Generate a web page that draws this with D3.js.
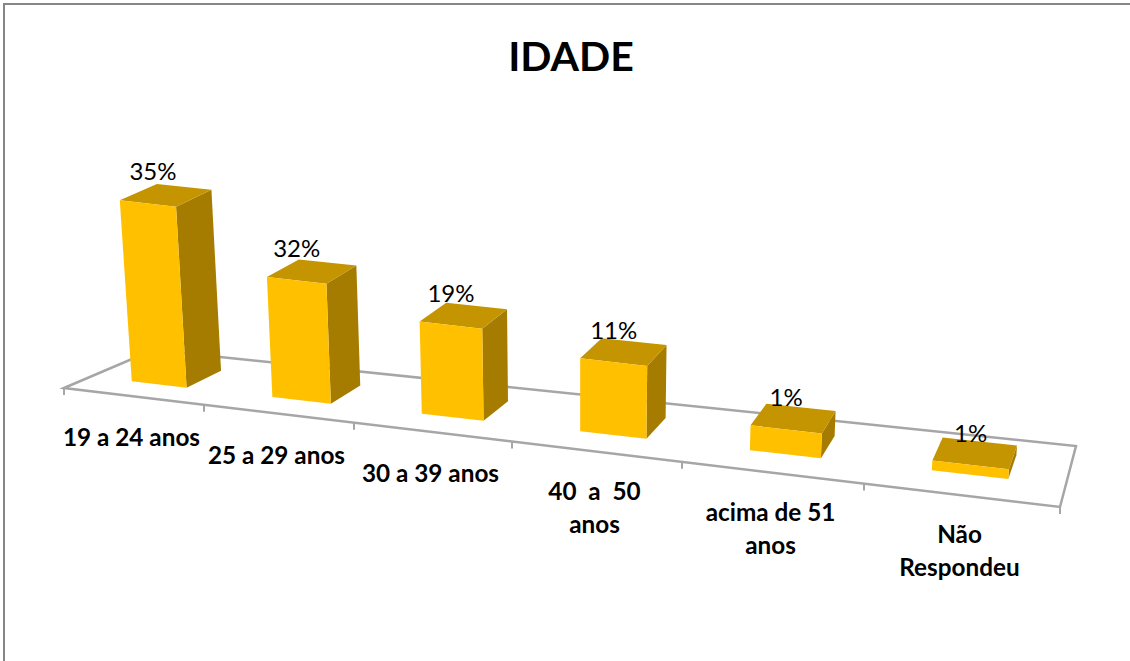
<!DOCTYPE html>
<html>
<head>
<meta charset="utf-8">
<script src="https://cdn.jsdelivr.net/npm/d3@7"></script>
<style>
    body { margin: 0; background: #fff; }
    svg { display: block; font-family: Lato, "Open Sans", sans-serif; }
</style>
</head>
<body>
<div id="chart"></div>
<script>
// DATA
var categories = [
    ['19 a 24 anos'],
    ['25 a 29 anos'],
    ['30 a 39 anos'],
    ['40  a  50', 'anos'],
    ['acima de 51', 'anos'],
    ['Não', 'Respondeu']
];
var valueLabels = ['35%', '32%', '19%', '11%', '1%', '1%'];
// bar heights as drawn, they don't follow the printed labels in the source picture
var drawnValues = [35, 23.2, 17.8, 14.1, 4.8, 1.9];
var tickSlots = [0, 1, 2, 3, 4, 5, 6];

var width = 1130, height = 661;

var svg = d3.select('#chart')
    .append('svg')
    .attr('width', width)
    .attr('height', height);

// SCALES (the floor is in perspective, so slots get wider to the right)
var frontX = d3.scaleLinear().domain(tickSlots).range([64, 204, 354, 512, 682, 864, 1060]);
var backX = d3.scaleLinear().domain(tickSlots).range([153, 283, 421, 568, 725, 894, 1076]);
var frontY = d3.scaleLinear().domain([64, 1060]).range([388, 507]);
var backY = d3.scaleLinear().domain([153, 1076]).range([350, 446]);
var rise = d3.scaleLinear().domain([0, 35]).range([0, 181]);
// bars sit slightly deeper on the floor towards the right
var barFront = d3.scaleLinear().domain([0, 5]).range([0.3, 0.35]);
var barBack = d3.scaleLinear().domain([0, 5]).range([0.72, 0.75]);

// u = slot along the axis, d = depth on the floor (0 front, 1 back), v = value
function project(u, d, v) {
    var fx = frontX(u), bx = backX(u);
    var x = fx + (bx - fx) * d;
    var y = frontY(fx) + (backY(bx) - frontY(fx)) * d;
    var h = rise(v);
    // verticals converge a little towards the bottom
    return [x + (x - 580) * 1.48e-4 * h, y - h];
}

function poly(points) {
    return points.map(function (p) { return p.join(','); }).join(' ');
}

// chart frame
svg.append('path')
    .attr('d', 'M4,' + height + 'V4H' + width)
    .attr('fill', 'none')
    .attr('stroke', '#868686')
    .attr('stroke-width', 2);

// Title
svg.append('text')
    .attr('x', 571)
    .attr('y', 71)
    .attr('text-anchor', 'middle')
    .style('font-size', '41px')
    .style('font-weight', 'bold')
    .text('IDADE');

// Floor
var axisColor = '#a6a6a6';
svg.append('polygon')
    .attr('points', poly([project(0, 0, 0), project(0, 1, 0), project(6, 1, 0), project(6, 0, 0)]))
    .attr('fill', 'none')
    .attr('stroke', axisColor)
    .attr('stroke-width', 2.5);

svg.selectAll('line.tick')
    .data(tickSlots)
    .enter()
    .append('line')
    .attr('class', 'tick')
    .attr('x1', d => project(d, 0, 0)[0])
    .attr('x2', d => project(d, 0, 0)[0])
    .attr('y1', d => project(d, 0, 0)[1])
    .attr('y2', d => project(d, 0, 0)[1] + 7)
    .attr('stroke', axisColor)
    .attr('stroke-width', 2);

// Bars
var u0 = 0.3, u1 = 0.7;
var bars = svg.selectAll('g.bar')
    .data(drawnValues)
    .enter()
    .append('g')
    .attr('class', 'bar');

bars.append('polygon')
    .attr('fill', '#a67c00')
    .attr('points', (v, i) => poly([
        project(i + u1, barFront(i), 0), project(i + u1, barBack(i), 0),
        project(i + u1, barBack(i), v), project(i + u1, barFront(i), v)
    ]));

bars.append('polygon')
    .attr('fill', '#c49500')
    .attr('points', (v, i) => poly([
        project(i + u0, barFront(i), v), project(i + u1, barFront(i), v),
        project(i + u1, barBack(i), v), project(i + u0, barBack(i), v)
    ]));

bars.append('polygon')
    .attr('fill', '#ffc000')
    .attr('points', (v, i) => poly([
        project(i + u0, barFront(i), 0), project(i + u1, barFront(i), 0),
        project(i + u1, barFront(i), v), project(i + u0, barFront(i), v)
    ]));

// Value labels
svg.selectAll('text.value')
    .data(drawnValues)
    .enter()
    .append('text')
    .attr('class', 'value')
    .attr('x', (v, i) => project(i + 0.5, barFront(i), v)[0] + (i === 0 ? 5 : 0))
    .attr('y', (v, i) => project(i + 0.5, barFront(i), v)[1] - 23)
    .attr('text-anchor', 'middle')
    .style('font-size', '24px')
    .text((v, i) => valueLabels[i]);

// Category labels
var catLabels = svg.selectAll('text.cat')
    .data(categories)
    .enter()
    .append('text')
    .attr('class', 'cat')
    .attr('text-anchor', 'middle')
    .style('font-size', '24.3px')
    .style('font-weight', 'bold');

catLabels.each(function (lines, i) {
    var p = project(i + 0.5, 0, 0);
    var top = p[1] + (lines.length > 1 ? 48 : 50);
    d3.select(this)
        .selectAll('tspan')
        .data(lines)
        .enter()
        .append('tspan')
        .attr('x', p[0] - 2.5)
        .attr('y', (l, j) => top + j * 33)
        .style('white-space', 'pre')
        .text(l => l);
});
</script>
</body>
</html>
